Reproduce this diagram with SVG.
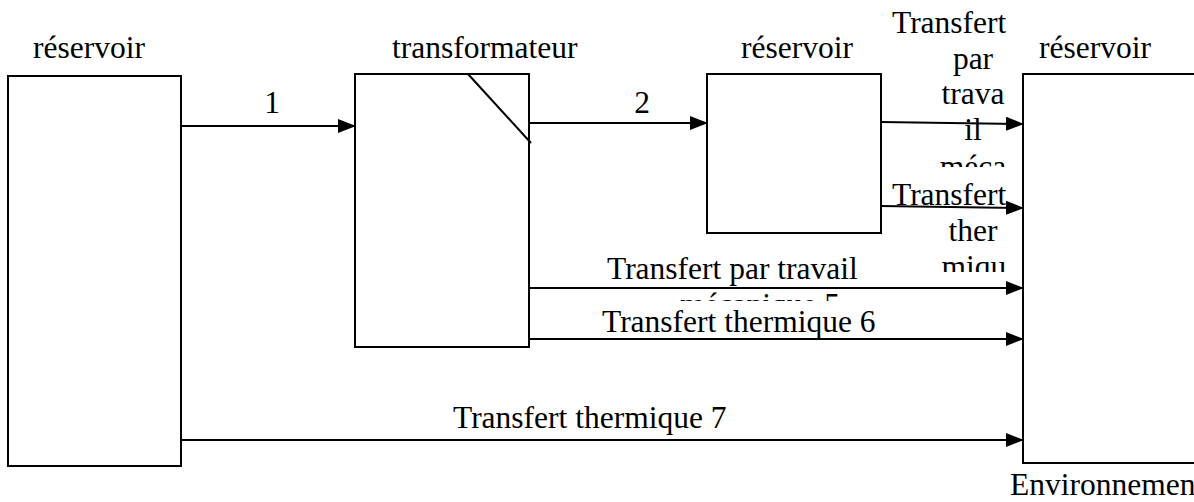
<svg xmlns="http://www.w3.org/2000/svg" width="1194" height="502" viewBox="0 0 1194 502">
<style>
.box{fill:#fff;stroke:#000;stroke-width:2}
.ln{fill:none;stroke:#000;stroke-width:2}
.t{font-family:"Liberation Serif","Times New Roman",serif;font-size:31.5px;fill:#000}
</style>
<defs>
<marker id="ah" markerWidth="18" markerHeight="14" refX="17" refY="7" orient="auto" markerUnits="userSpaceOnUse">
<path d="M0,0 L18,7 L0,14 Z" fill="#000"/>
</marker>
<clipPath id="c1"><rect x="930" y="0" width="90" height="167"/></clipPath>
<clipPath id="c2"><rect x="930" y="180" width="90" height="92"/></clipPath>
<clipPath id="c3"><rect x="540" y="250" width="470" height="51"/></clipPath>
</defs>
<rect width="1194" height="502" fill="#fff"/>
<g id="reservoir1">
<rect class="box" x="8" y="76" width="173" height="390"/>
<text class="t" x="33" y="58">réservoir</text>
</g>
<g id="transformateur">
<rect class="box" x="355" y="74" width="174" height="273"/>
<line class="ln" x1="468" y1="74" x2="531" y2="143"/>
<text class="t" x="392" y="58">transformateur</text>
</g>
<g id="reservoir2">
<rect class="box" x="707" y="74" width="174" height="159"/>
<text class="t" x="741" y="58">réservoir</text>
</g>
<g id="environnement">
<rect class="box" x="1023" y="74" width="200" height="389"/>
<text class="t" x="1039" y="58">réservoir</text>
<text class="t" x="1010" y="495">Environnemen</text>
</g>
<g id="connectors">
<line class="ln" x1="181" y1="126" x2="355" y2="126" marker-end="url(#ah)"/>
<line class="ln" x1="529" y1="123" x2="707" y2="123" marker-end="url(#ah)"/>
<line class="ln" x1="881" y1="122" x2="1023" y2="124" marker-end="url(#ah)"/>
<line class="ln" x1="881" y1="206" x2="1023" y2="208" marker-end="url(#ah)"/>
<line class="ln" x1="529" y1="288" x2="1023" y2="288" marker-end="url(#ah)"/>
<line class="ln" x1="529" y1="339" x2="1023" y2="339" marker-end="url(#ah)"/>
<line class="ln" x1="181" y1="440" x2="1023" y2="440" marker-end="url(#ah)"/>
</g>
<g id="labels">
<text class="t" x="272" y="113" text-anchor="middle">1</text>
<text class="t" x="642" y="113" text-anchor="middle">2</text>
<text class="t" x="892" y="33">Transfert</text>
<g clip-path="url(#c1)">
<text class="t" x="973" y="69" text-anchor="middle">par</text>
<text class="t" x="973" y="104" text-anchor="middle">trava</text>
<text class="t" x="973" y="140" text-anchor="middle">il</text>
<text class="t" x="973" y="177" text-anchor="middle">méca</text>
</g>
<text class="t" x="892" y="205">Transfert</text>
<g clip-path="url(#c2)">
<text class="t" x="973" y="241" text-anchor="middle">ther</text>
<text class="t" x="974" y="277" text-anchor="middle">miqu</text>
</g>
<text class="t" x="607" y="279">Transfert par travail</text>
<g clip-path="url(#c3)">
<text class="t" x="680" y="315">mécanique 5</text>
</g>
<text class="t" x="602" y="332">Transfert thermique 6</text>
<text class="t" x="453" y="428">Transfert thermique 7</text>
</g>
</svg>
